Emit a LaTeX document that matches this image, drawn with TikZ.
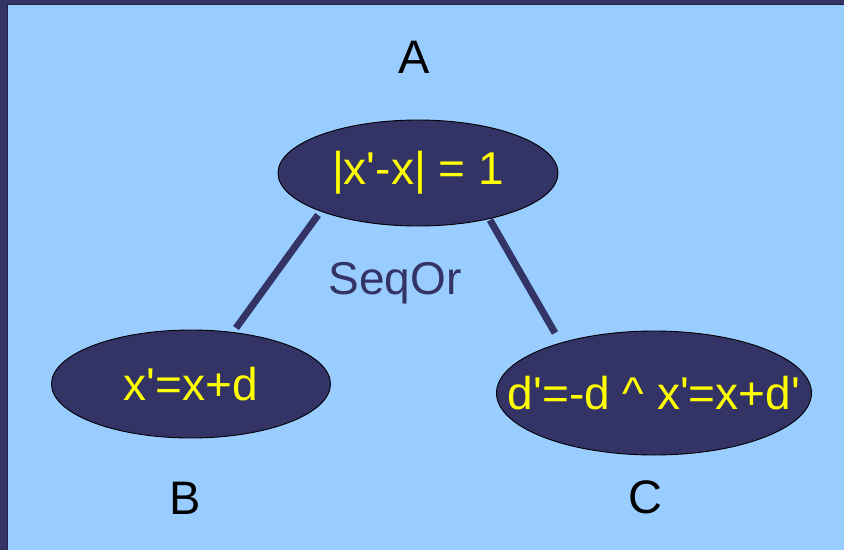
\documentclass[tikz,border=0pt]{standalone}
\usepackage{fontspec}
\setmainfont{Liberation Sans}
\usetikzlibrary{shapes.geometric}
\definecolor{navy}{HTML}{333366}
\definecolor{navydark}{HTML}{222244}
\definecolor{sky}{HTML}{99CCFF}
\definecolor{yel}{HTML}{FFFF00}
\newcommand{\sq}{\textquotesingle}
\newcommand{\fixw}[1]{\makebox[0pt]{#1}}
\tikzset{
  ovalnode/.style={ellipse, draw=black, line width=0.9pt, fill=navy, text=yel, inner sep=0pt,
    font=\fontsize{46}{50}\selectfont},
  letter/.style={text=black, inner sep=0pt, font=\fontsize{47}{50}\selectfont},
  link/.style={draw=navy, line width=7pt},
}
\begin{document}
\begin{tikzpicture}[x=1pt,y=-1pt]
\useasboundingbox (0,0) rectangle (844,550);
\fill[navy] (0,0) rectangle (844,550);
\fill[sky] (8,5) rectangle (844,550);
\draw[navydark, line width=1pt] (7.5,550) -- (7.5,4.5) -- (844,4.5);
\node[ovalnode, minimum width=280pt, minimum height=106pt] (a) at (418,173) {\fixw{|x\sq-x| = 1}};
\node[ovalnode, minimum width=279pt, minimum height=108pt] (b) at (191,384) {\fixw{x\sq=x+d}};
\node[ovalnode, minimum width=315pt, minimum height=124pt] (c) at (654,393) {\fixw{d\sq=-d \textasciicircum{} x\sq=x+d\sq}};
\node[letter] (la) at (414,57) {A};
\node[letter] (lb) at (185,498) {B};
\node[letter] (lc) at (645,497) {C};
\node[text=navy, inner sep=0pt, font=\fontsize{46}{50}\selectfont] (seq) at (395,283) {SeqOr};
\coordinate (a1) at (318,215);
\coordinate (b1) at (236,328);
\coordinate (a2) at (490,220);
\coordinate (c1) at (555,333);
\draw[link] (a1) -- (b1);
\draw[link] (a2) -- (c1);
\end{tikzpicture}
\end{document}
